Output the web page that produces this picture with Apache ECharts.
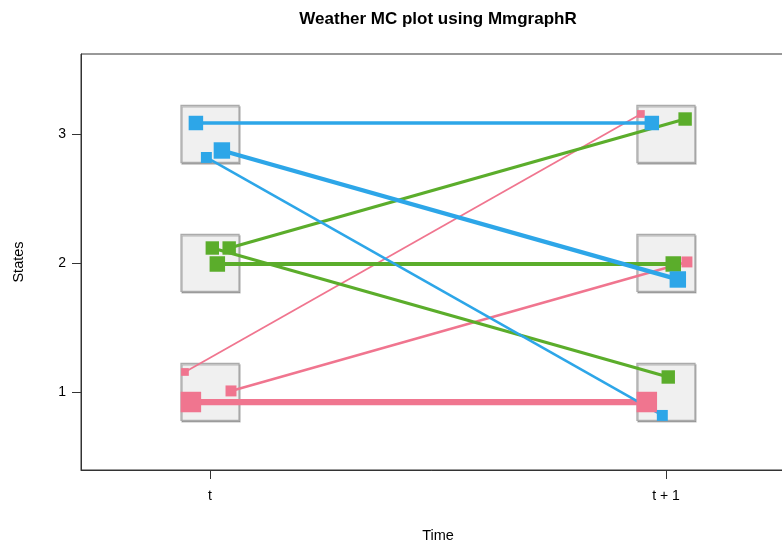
<!DOCTYPE html>
<html>
<head>
<meta charset="utf-8">
<script src="https://cdn.jsdelivr.net/npm/echarts@6/dist/echarts.min.js"></script>
<style>
html,body{margin:0;padding:0;background:#fff;}
#main{width:782px;height:542px;}
</style>
</head>
<body>
<div id="main"></div>
<script>
// ---- data ----
const titleText = 'Weather MC plot using MmgraphR';
const stateTicks = [1, 2, 3];
const timeTicks = [0, 1];
const timeLabels = ['t', 't + 1'];
const fromState = [1, 1, 1, 2, 2, 2, 3, 3, 3];
const toState   = [1, 2, 3, 1, 2, 3, 1, 2, 3];
const probs     = [0.7, 0.2, 0.1, 0.3, 0.4, 0.3, 0.2, 0.45, 0.35];
// jitter of each transition (data units)
const jitterX = [-0.042, 0.046, -0.055, 0.005, 0.016, 0.042, -0.008, 0.026, -0.031];
const jitterY = [-0.078, 0.008, 0.155, 0.116, -0.008, 0.116, -0.182, -0.128, 0.085];

// ---- styles ----
const stateColors = {1: '#F0758F', 2: '#5BAD2B', 3: '#2DA6E8'};
const FONT = 'Liberation Sans, Arial, Helvetica, sans-serif';
const boxHalfW = 0.0636, boxHalfH = 0.221;

const chart = echarts.init(document.getElementById('main'), null, {renderer: 'canvas'});

const series = [];
// state boxes
const boxData = [];
timeTicks.forEach(t => stateTicks.forEach(s => boxData.push([t, s])));
series.push({
  type: 'custom',
  silent: true,
  data: boxData,
  renderItem: function (params, api) {
    const x = api.value(0), y = api.value(1);
    const p1 = api.coord([x - boxHalfW, y + boxHalfH]);
    const p2 = api.coord([x + boxHalfW, y - boxHalfH]);
    return {
      type: 'rect',
      shape: {x: p1[0], y: p1[1], width: p2[0] - p1[0], height: p2[1] - p1[1]},
      style: {fill: '#F0F0F0', stroke: '#ABABAB', lineWidth: 1.3,
              shadowColor: 'rgba(0,0,0,0.25)', shadowOffsetX: 1, shadowOffsetY: 1.5, shadowBlur: 0}
    };
  }
});

for (let i = 0; i < probs.length; i++) {
  const c = stateColors[fromState[i]];
  const pts = [[0 + jitterX[i], fromState[i] + jitterY[i]], [1 + jitterX[i], toState[i] + jitterY[i]]];
  series.push({
    type: 'line',
    data: pts,
    symbol: 'none',
    silent: true,
    lineStyle: {color: c, width: 7.5 * probs[i] + 1},
    z: 2
  });
  series.push({
    type: 'scatter',
    data: pts,
    symbol: 'rect',
    symbolSize: 24.5 * Math.sqrt(probs[i]),
    itemStyle: {color: c, opacity: 1},
    silent: true,
    z: 2
  });
}

const option = {
  animation: false,
  backgroundColor: '#ffffff',
  graphic: [{
    type: 'text',
    x: 438, y: 19,
    style: {text: titleText, font: 'bold 17px ' + FONT, fill: '#000', textAlign: 'center', textVerticalAlign: 'middle'}
  }],
  grid: {left: 81, top: 54, width: 714, height: 416, show: true, borderColor: '#333', borderWidth: 1,
         backgroundColor: 'transparent', containLabel: false, outerBoundsMode: 'none'},
  xAxis: {
    type: 'value', min: -0.283, max: 1.283,
    name: 'Time', nameLocation: 'middle', nameGap: 58,
    nameTextStyle: {fontFamily: FONT, fontSize: 14.5, color: '#000'},
    axisLine: {show: true, onZero: false, lineStyle: {color: '#333', width: 1}},
    axisTick: {show: true, customValues: timeTicks, length: 9, lineStyle: {color: '#333'}},
    axisLabel: {customValues: timeTicks, margin: 19, fontFamily: FONT, fontSize: 14, color: '#000',
                formatter: v => timeLabels[timeTicks.indexOf(Math.round(v))] || ''},
    splitLine: {show: false}
  },
  yAxis: {
    type: 'value', min: 0.395, max: 3.62,
    name: 'States', nameLocation: 'middle', nameGap: 55, nameRotate: 90,
    nameTextStyle: {fontFamily: FONT, fontSize: 14.5, color: '#000'},
    axisLine: {show: true, onZero: false, lineStyle: {color: '#333', width: 1}},
    axisTick: {show: true, customValues: stateTicks, length: 9, lineStyle: {color: '#333'}},
    axisLabel: {customValues: stateTicks, margin: 15, fontFamily: FONT, fontSize: 14, color: '#000',
                formatter: v => String(Math.round(v))},
    splitLine: {show: false}
  },
  series: series
};
chart.setOption(option);
</script>
</body>
</html>
